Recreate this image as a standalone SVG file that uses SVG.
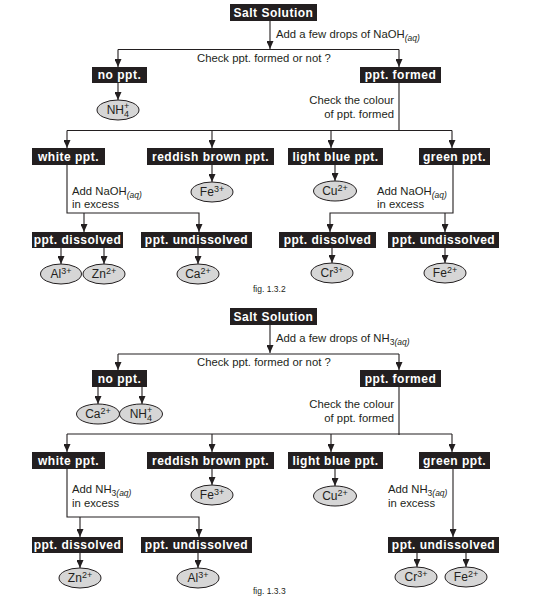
<svg xmlns="http://www.w3.org/2000/svg" width="537" height="604" viewBox="0 0 537 604">
<style>
.box{fill:#231f20}
.bl{fill:#fff;font-family:"Liberation Sans",Arial,sans-serif;font-weight:bold;font-size:12px;letter-spacing:0.5px;text-anchor:middle}
.ion ellipse{fill:#d6d6d6;stroke:#231f20;stroke-width:1}
.it{fill:#231f20;font-family:"Liberation Sans",Arial,sans-serif;font-size:12px;text-anchor:middle}
.it tspan{font-size:9px}
.t{fill:#231f20;font-family:"Liberation Sans",Arial,sans-serif;font-size:11.3px}
.r{text-anchor:end}
.s{font-size:8.5px}
.i{font-style:italic}
.fig{fill:#231f20;font-family:"Liberation Sans",Arial,sans-serif;font-size:8.5px}
.c path{fill:none;stroke:#231f20;stroke-width:1.1}
.c .a{marker-end:url(#ah)}
</style>
<defs>
<marker id="ah" markerUnits="userSpaceOnUse" markerWidth="7" markerHeight="8" refX="3.5" refY="8" orient="0" viewBox="0 0 7 8">
<path d="M0,0 L7,0 L3.5,8 z" fill="#231f20"/>
</marker>
</defs>

<!-- ===== Figure 1.3.2 ===== -->
<g id="connectors1" class="c">
<path class="a" d="M270,21 V49"/>
<path d="M118,49.5 H399"/>
<path class="a" d="M118,49.5 V67"/>
<path class="a" d="M399,49.5 V67"/>
<path class="a" d="M118,83 V100"/>
<path d="M399,83 V130.5 M67,130.5 H452"/>
<path class="a" d="M67,130.5 V148"/>
<path class="a" d="M212,130.5 V148"/>
<path class="a" d="M331,130.5 V148"/>
<path class="a" d="M452,130.5 V148"/>
<path class="a" d="M212,165 V182"/>
<path class="a" d="M335,165 V181"/>
<path class="a" d="M67,165 V213 H199 V232"/>
<path class="a" d="M84,213 V232"/>
<path class="a" d="M61,248 V264"/>
<path class="a" d="M104,248 V264"/>
<path class="a" d="M198,248 V264"/>
<path class="a" d="M453,165 V213 H330 V232"/>
<path class="a" d="M445,213 V232"/>
<path class="a" d="M332,248 V263"/>
<path class="a" d="M445,248 V263"/>
</g>
<g id="labels1">
<text class="t" x="276" y="38">Add a few drops of NaOH<tspan class="s i" dy="3">(aq)</tspan></text>
<text class="t" x="197" y="62">Check ppt. formed or not ?</text>
<text class="t r" x="394" y="104">Check the colour</text>
<text class="t r" x="394" y="118">of ppt. formed</text>
<text class="t" x="72" y="195">Add NaOH<tspan class="s i" dy="3">(aq)</tspan></text>
<text class="t" x="72" y="208">in excess</text>
<text class="t" x="377" y="195">Add NaOH<tspan class="s i" dy="3">(aq)</tspan></text>
<text class="t" x="377" y="208">in excess</text>
<text class="fig" x="253" y="292">fig. 1.3.2</text>
</g>
<g id="f1-salt"><rect class="box" x="230" y="4" width="87" height="17"/><text class="bl" x="273.5" y="16.5">Salt Solution</text></g>
<g id="f1-noppt"><rect class="box" x="92" y="67" width="55" height="16"/><text class="bl" x="119.5" y="79">no ppt.</text></g>
<g id="f1-pptformed"><rect class="box" x="360" y="67" width="81" height="16"/><text class="bl" x="400.5" y="79">ppt. formed</text></g>
<g id="f1-nh4" class="ion"><ellipse cx="118" cy="110" rx="21" ry="10"/><text class="it" x="118" y="114">NH<tspan dy="3">4</tspan><tspan dx="-5" dy="-8.5">+</tspan></text></g>
<g id="f1-white"><rect class="box" x="32" y="148" width="73" height="17"/><text class="bl" x="68.5" y="160.5">white ppt.</text></g>
<g id="f1-reddish"><rect class="box" x="147" y="148" width="127" height="17"/><text class="bl" x="210.5" y="160.5">reddish brown ppt.</text></g>
<g id="f1-lightblue"><rect class="box" x="288" y="148" width="95" height="17"/><text class="bl" x="335.5" y="160.5">light blue ppt.</text></g>
<g id="f1-green"><rect class="box" x="419" y="148" width="71" height="17"/><text class="bl" x="454.5" y="160.5">green ppt.</text></g>
<g id="f1-fe3" class="ion"><ellipse cx="212" cy="192" rx="21" ry="10"/><text class="it" x="212" y="196">Fe<tspan dy="-4">3+</tspan></text></g>
<g id="f1-cu2" class="ion"><ellipse cx="335" cy="191" rx="21.5" ry="10"/><text class="it" x="335" y="195">Cu<tspan dy="-4">2+</tspan></text></g>
<g id="f1-dissolved-l"><rect class="box" x="32" y="232" width="91" height="16"/><text class="bl" x="77.5" y="244">ppt. dissolved</text></g>
<g id="f1-undissolved-l"><rect class="box" x="141" y="232" width="111" height="16"/><text class="bl" x="196.5" y="244">ppt. undissolved</text></g>
<g id="f1-dissolved-r"><rect class="box" x="279" y="232" width="97" height="16"/><text class="bl" x="327.5" y="244">ppt. dissolved</text></g>
<g id="f1-undissolved-r"><rect class="box" x="388" y="232" width="111" height="16"/><text class="bl" x="443.5" y="244">ppt. undissolved</text></g>
<g id="f1-al3" class="ion"><ellipse cx="61" cy="274" rx="20.5" ry="10"/><text class="it" x="61" y="278">Al<tspan dy="-4">3+</tspan></text></g>
<g id="f1-zn2" class="ion"><ellipse cx="104" cy="274" rx="21" ry="10"/><text class="it" x="104" y="278">Zn<tspan dy="-4">2+</tspan></text></g>
<g id="f1-ca2" class="ion"><ellipse cx="198" cy="274" rx="21" ry="10"/><text class="it" x="198" y="278">Ca<tspan dy="-4">2+</tspan></text></g>
<g id="f1-cr3" class="ion"><ellipse cx="332" cy="273" rx="21" ry="10"/><text class="it" x="332" y="277">Cr<tspan dy="-4">3+</tspan></text></g>
<g id="f1-fe2" class="ion"><ellipse cx="445" cy="273" rx="21" ry="10"/><text class="it" x="445" y="277">Fe<tspan dy="-4">2+</tspan></text></g>

<!-- ===== Figure 1.3.3 ===== -->
<g id="connectors2" class="c">
<path class="a" d="M270,325 V353"/>
<path d="M118,354 H399"/>
<path class="a" d="M118,354 V370"/>
<path class="a" d="M399,354 V370"/>
<path class="a" d="M98,387 V404"/>
<path class="a" d="M142,387 V404"/>
<path d="M399,387 V435 M67,434 H452"/>
<path class="a" d="M67,434 V452"/>
<path class="a" d="M212,434 V452"/>
<path class="a" d="M331,434 V452"/>
<path class="a" d="M452,434 V452"/>
<path class="a" d="M212,469 V485"/>
<path class="a" d="M335,469 V486"/>
<path class="a" d="M67,469 V517 H199 V537"/>
<path class="a" d="M80,517 V537"/>
<path class="a" d="M80,553 V568"/>
<path class="a" d="M198,553 V568"/>
<path class="a" d="M453,469 V537"/>
<path class="a" d="M417,553 V567"/>
<path class="a" d="M466,553 V567"/>
</g>
<g id="labels2">
<text class="t" x="276" y="342">Add a few drops of NH<tspan class="s" dy="3">3<tspan class="i">(aq)</tspan></tspan></text>
<text class="t" x="197" y="366">Check ppt. formed or not ?</text>
<text class="t r" x="394" y="408">Check the colour</text>
<text class="t r" x="394" y="422">of ppt. formed</text>
<text class="t" x="72" y="493">Add NH<tspan class="s" dy="3">3<tspan class="i">(aq)</tspan></tspan></text>
<text class="t" x="72" y="507">in excess</text>
<text class="t" x="388" y="493">Add NH<tspan class="s" dy="3">3<tspan class="i">(aq)</tspan></tspan></text>
<text class="t" x="388" y="507">in excess</text>
<text class="fig" x="253" y="594">fig. 1.3.3</text>
</g>
<g id="f2-salt"><rect class="box" x="230" y="308" width="87" height="17"/><text class="bl" x="273.5" y="320.5">Salt Solution</text></g>
<g id="f2-noppt"><rect class="box" x="92" y="370" width="55" height="17"/><text class="bl" x="119.5" y="382.5">no ppt.</text></g>
<g id="f2-pptformed"><rect class="box" x="360" y="370" width="81" height="17"/><text class="bl" x="400.5" y="382.5">ppt. formed</text></g>
<g id="f2-ca2" class="ion"><ellipse cx="98" cy="414" rx="21.5" ry="10"/><text class="it" x="98" y="418">Ca<tspan dy="-4">2+</tspan></text></g>
<g id="f2-nh4" class="ion"><ellipse cx="141" cy="414" rx="21.5" ry="10"/><text class="it" x="141" y="418">NH<tspan dy="3">4</tspan><tspan dx="-5" dy="-8.5">+</tspan></text></g>
<g id="f2-white"><rect class="box" x="32" y="452" width="73" height="17"/><text class="bl" x="68.5" y="464.5">white ppt.</text></g>
<g id="f2-reddish"><rect class="box" x="147" y="452" width="127" height="17"/><text class="bl" x="210.5" y="464.5">reddish brown ppt.</text></g>
<g id="f2-lightblue"><rect class="box" x="288" y="452" width="95" height="17"/><text class="bl" x="335.5" y="464.5">light blue ppt.</text></g>
<g id="f2-green"><rect class="box" x="419" y="452" width="71" height="17"/><text class="bl" x="454.5" y="464.5">green ppt.</text></g>
<g id="f2-fe3" class="ion"><ellipse cx="212" cy="495" rx="21" ry="10"/><text class="it" x="212" y="499">Fe<tspan dy="-4">3+</tspan></text></g>
<g id="f2-cu2" class="ion"><ellipse cx="335" cy="496" rx="21.5" ry="10"/><text class="it" x="335" y="500">Cu<tspan dy="-4">2+</tspan></text></g>
<g id="f2-dissolved-l"><rect class="box" x="32" y="537" width="91" height="16"/><text class="bl" x="77.5" y="549">ppt. dissolved</text></g>
<g id="f2-undissolved-l"><rect class="box" x="141" y="537" width="111" height="16"/><text class="bl" x="196.5" y="549">ppt. undissolved</text></g>
<g id="f2-undissolved-r"><rect class="box" x="388" y="537" width="111" height="16"/><text class="bl" x="443.5" y="549">ppt. undissolved</text></g>
<g id="f2-zn2" class="ion"><ellipse cx="80" cy="578" rx="21" ry="10"/><text class="it" x="80" y="582">Zn<tspan dy="-4">2+</tspan></text></g>
<g id="f2-al3" class="ion"><ellipse cx="198" cy="578" rx="21" ry="10"/><text class="it" x="198" y="582">Al<tspan dy="-4">3+</tspan></text></g>
<g id="f2-cr3" class="ion"><ellipse cx="416" cy="577" rx="21" ry="10"/><text class="it" x="416" y="581">Cr<tspan dy="-4">3+</tspan></text></g>
<g id="f2-fe2" class="ion"><ellipse cx="466" cy="577" rx="21" ry="10"/><text class="it" x="466" y="581">Fe<tspan dy="-4">2+</tspan></text></g>
</svg>
